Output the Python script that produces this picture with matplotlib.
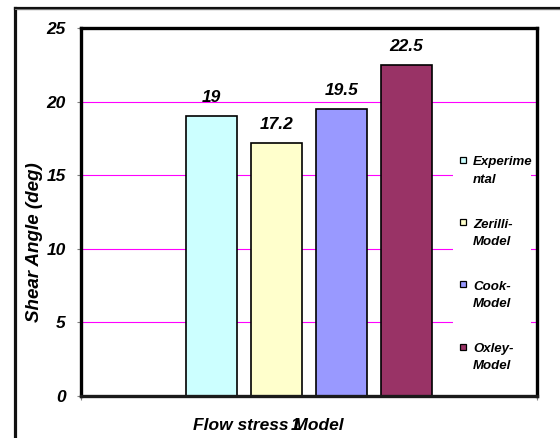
import matplotlib
matplotlib.use("Agg")
import matplotlib.pyplot as plt
from matplotlib.patches import Rectangle

plt.rcParams['font.family'] = ['Liberation Sans', 'DejaVu Sans']
plt.rcParams['font.weight'] = 'bold'
plt.rcParams['font.style'] = 'italic'
plt.rcParams['axes.labelweight'] = 'bold'

# shear angle per flow stress model
series = ['Experimental', 'Zerilli-Model', 'Cook-Model', 'Oxley-Model']
legend_text = ['Experime\nntal', 'Zerilli-\nModel', 'Cook-\nModel', 'Oxley-\nModel']
angles = [19, 17.2, 19.5, 22.5]
colors = ['#CCFFFF', '#FFFFCC', '#9999FF', '#993366']
yticks = [0, 5, 10, 15, 20, 25]
category_label = '1'

fig = plt.figure(figsize=(5.6, 4.38), dpi=100)

# full-size background axes in pixel units for the outer chart frame
bg = fig.add_axes([0, 0, 1, 1])
bg.set_xlim(0, 560)
bg.set_ylim(438, 0)
bg.axis('off')
bg.plot([14.5, 14.5], [460, 7.5], color='#111111', linewidth=2.3, clip_on=False)
bg.plot([14.5, 600], [7.5, 7.5], color='#111111', linewidth=2.3, clip_on=False)
bg.plot([14.5, 600], [9.3, 9.3], color='#8c8c8c', linewidth=0.6, clip_on=False)

ax = fig.add_axes([81 / 560, 42 / 438, 456 / 560, 368 / 438])

pitch = 0.1425
width = 0.11
center = 0.5
xs = [center + (i - 1.5) * pitch for i in range(len(angles))]

ax.set_axisbelow(True)
ax.yaxis.grid(True, color='#FF00FF', linewidth=0.8)
bars = ax.bar(xs, angles, width=width, color=colors, edgecolor='black', linewidth=1.2)

for x, v in zip(xs, angles):
    ax.annotate('%g' % v, (x, v), xytext=(0, 10), textcoords='offset points',
                ha='center', va='baseline', fontsize=12.5, fontweight='bold')

ax.set_xlim(0, 1)
ax.set_ylim(0, 25)
ax.set_yticks(yticks)
ax.tick_params(axis='y', direction='out', length=3, width=0.8, color='#808080',
               pad=8, labelsize=12.5)

ax.set_xticks([0.4715], [category_label])
ax.set_xticks([0, 1], minor=True)
ax.tick_params(axis='x', which='major', length=0, pad=16, labelsize=12.5)
ax.tick_params(axis='x', which='minor', direction='out', length=3, width=0.8, color='#808080')

for side in ['left', 'right', 'top', 'bottom']:
    ax.spines[side].set_linewidth(2.4)
    ax.spines[side].set_color('black')
ax.spines['bottom'].set_color('#1a1a1a')

ax.set_ylabel('Shear Angle (deg)', fontsize=13.5, fontweight='bold')
ax.yaxis.set_label_coords(-0.0844, 0.418)
ax.set_xlabel('Flow stress Model', fontsize=12.5, fontweight='bold')
ax.xaxis.set_label_coords(0.410, -0.0598)

# legend drawn by hand so markers sit on the first line of each label
ax.add_patch(Rectangle((0.816, 0.043), 0.171, 0.653, transform=ax.transAxes,
                       facecolor='white', edgecolor='none', zorder=1.5))
leg_top = 0.641
leg_step = 0.169
for i, (lab, c) in enumerate(zip(legend_text, colors)):
    y = leg_top - i * leg_step
    ax.plot([0.838], [y], marker='s', markersize=4.5, markerfacecolor=c,
            markeredgecolor='black', markeredgewidth=0.9, linestyle='none',
            transform=ax.transAxes, zorder=3, clip_on=False)
    ax.annotate(lab, (0.860, y), xycoords='axes fraction', xytext=(0, -16.4),
                textcoords='offset points', fontsize=9.5, fontweight='bold',
                ha='left', va='baseline', linespacing=1.6, zorder=3)

fig.savefig('out.png', dpi=100)
